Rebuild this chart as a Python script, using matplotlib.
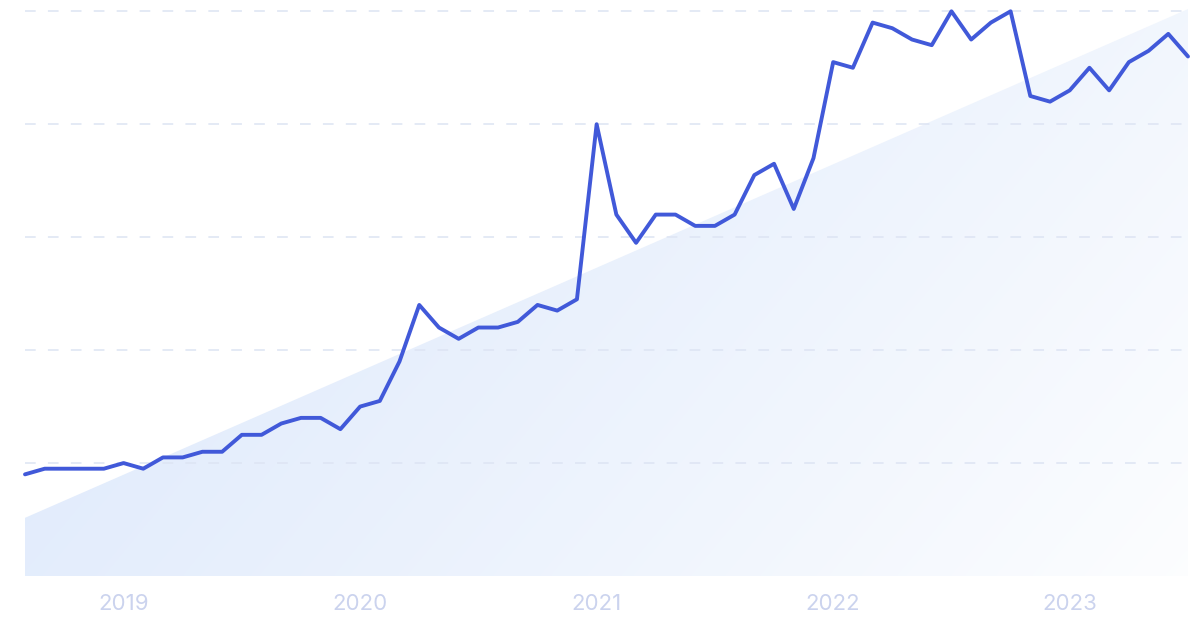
import numpy as np
import matplotlib
matplotlib.use("Agg")
import matplotlib.pyplot as plt
from matplotlib.patches import Polygon

# ---- data (monthly, Aug 2018 .. Jul 2023) ----
values = [18, 19, 19, 19, 19, 20, 19, 21, 21, 22, 22, 25, 25, 27, 28, 28, 26, 30, 31, 38,
          48, 44, 42, 44, 44, 45, 48, 47, 49, 80, 64, 59, 64, 64, 62, 62, 64, 71, 73, 65,
          74, 91, 90, 98, 97, 95, 94, 100, 95, 98, 100, 85, 84, 86, 90, 86, 91, 93, 96, 92]
year_labels = ["2019", "2020", "2021", "2022", "2023"]
year_positions = [5, 17, 29, 41, 53]   # month index of January
trend_start = 10.3
trend_end = 100.4
grid_values = [20, 40, 60, 80, 100]

LINE = "#4159d9"
GRID = "#dde4f3"
LABEL = "#cbd3ee"

plt.rcParams['font.family'] = ['Inter', 'DejaVu Sans']

fig = plt.figure(figsize=(12, 6.3), dpi=100)
ax = fig.add_axes([25 / 1200, 1 - 576 / 630, (1188 - 25) / 1200, 576 / 630])
n = len(values)
x = np.arange(n)
ax.set_xlim(0, n - 1)
ax.set_ylim(0, 102)

# gradient-filled trend wedge
poly = Polygon([(0, 0), (0, trend_start), (n - 1, trend_end), (n - 1, 0)],
               closed=True, facecolor="none", edgecolor="none")
ax.add_patch(poly)
gx, gy = np.meshgrid(np.linspace(0, 1, 300), np.linspace(0, 1, 200))
t = np.clip(0.85 * gx - 0.35 * gy + 0.08, 0, 1) ** 1.1
c0 = np.array([0.886, 0.925, 0.988])
c1 = np.array([0.998, 0.999, 1.0])
img = c0[None, None, :] * (1 - t[..., None]) + c1[None, None, :] * t[..., None]
im = ax.imshow(img, extent=(0, n - 1, 0, 102), origin="lower", aspect="auto",
               interpolation="bilinear", zorder=1)
im.set_clip_path(poly)

for g in grid_values:
    ax.axhline(g, color=GRID, lw=1.1, dashes=(7, 8), zorder=2)

ax.plot(x, values, color=LINE, lw=2.8, solid_joinstyle="round",
        solid_capstyle="round", zorder=3, clip_on=False)

ax.set_xticks(year_positions)
ax.set_xticklabels(year_labels, color=LABEL, fontsize=16)
ax.tick_params(axis="x", length=0, pad=13)
ax.set_yticks([])
for s in ax.spines.values():
    s.set_visible(False)

fig.savefig("out.png", dpi=100, facecolor="white")
